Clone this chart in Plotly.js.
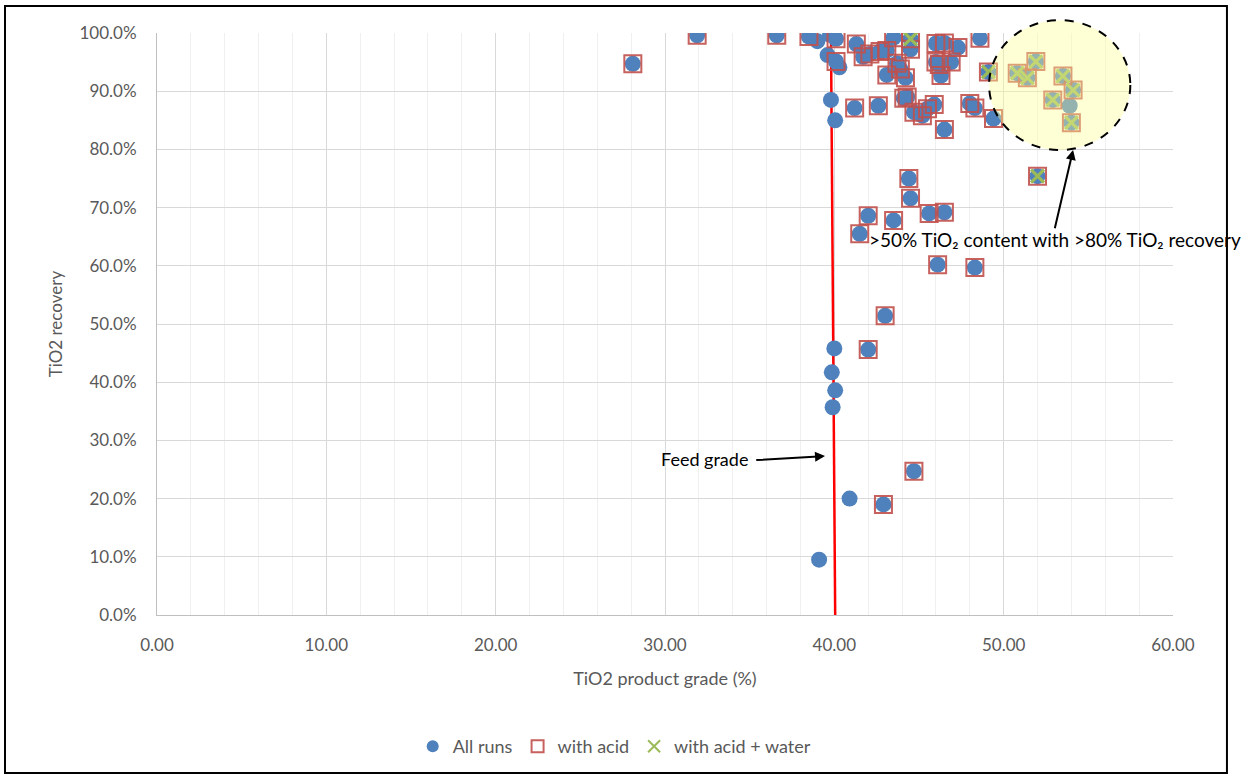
<!DOCTYPE html>
<html>
<head>
<meta charset="utf-8">
<script src="https://cdn.plot.ly/plotly-3.0.1.min.js"></script>
<style>
  html, body { margin: 0; padding: 0; background: #ffffff; }
  #chart { width: 1254px; height: 778px; }
</style>
</head>
<body>
<div id="chart"></div>
<script>
// Runs without acid (TiO2 product grade %, TiO2 recovery fraction)
const plainGrade = [39.1, 40.9, 39.9, 40.05, 39.85, 40.0, 39.8, 40.05, 39.6, 40.3, 39.0, 39.75, 53.9];
const plainRecovery = [0.095, 0.200, 0.357, 0.386, 0.417, 0.458, 0.885, 0.850, 0.962, 0.941, 0.986, 0.997, 0.875];

// Runs with acid (no water)
const acidGrade = [28.1, 31.9, 36.6, 38.5, 40.1, 40.1, 41.3, 41.7, 42.1, 42.7, 43.1, 43.5, 44.5,
  43.7, 43.9, 43.1, 44.2, 41.2, 42.6, 44.1, 44.3, 44.7, 45.2, 45.5, 45.9, 46.5, 46.0, 46.5,
  47.3, 46.0, 46.2, 46.9, 46.3, 48.0, 48.3, 49.4, 48.6, 44.4, 44.5, 42.0, 43.5, 45.6, 46.5,
  41.5, 46.1, 48.3, 43.0, 42.0, 44.7, 42.9];
const acidRecovery = [0.947, 0.996, 0.996, 0.994, 0.990, 0.951, 0.981, 0.959, 0.964, 0.968, 0.970, 0.992, 0.972,
  0.948, 0.938, 0.928, 0.923, 0.871, 0.875, 0.888, 0.890, 0.864, 0.858, 0.870, 0.877, 0.834, 0.982, 0.983,
  0.975, 0.950, 0.946, 0.950, 0.927, 0.879, 0.871, 0.853, 0.991, 0.750, 0.716, 0.686, 0.678, 0.690, 0.692,
  0.655, 0.602, 0.597, 0.514, 0.456, 0.247, 0.190];

// Runs with acid + water
const waterGrade = [44.5, 49.1, 50.8, 51.4, 51.9, 53.5, 54.1, 52.9, 54.0, 52.0];
const waterRecovery = [0.990, 0.933, 0.931, 0.923, 0.951, 0.926, 0.902, 0.885, 0.846, 0.754];

// Feed grade reference line
const feedGrade = [39.8, 40.05];
const feedRecovery = [1.0, 0.0];

const xTickVals = [0, 10, 20, 30, 40, 50, 60];
const yTickVals = [0, 0.1, 0.2, 0.3, 0.4, 0.5, 0.6, 0.7, 0.8, 0.9, 1.0];

const seriesNames = ['All runs', 'with acid', 'with acid + water'];

const allGrade = plainGrade.concat(acidGrade, waterGrade);
const allRecovery = plainRecovery.concat(acidRecovery, waterRecovery);
const acidAllGrade = acidGrade.concat(waterGrade);
const acidAllRecovery = acidRecovery.concat(waterRecovery);

const FONT = 'Lato, "Open Sans", sans-serif';

const traces = [
  {
    x: feedGrade, y: feedRecovery, type: 'scatter', mode: 'lines',
    line: { color: '#FF0000', width: 2.5 }, showlegend: false, hoverinfo: 'skip'
  },
  {
    x: allGrade, y: allRecovery, type: 'scatter', mode: 'markers', name: seriesNames[0],
    marker: { symbol: 'circle', size: 16, color: '#4F81BD' }
  },
  {
    x: acidAllGrade, y: acidAllRecovery, type: 'scatter', mode: 'markers', name: seriesNames[1],
    marker: { symbol: 'square-open', size: 17, color: 'rgba(192,80,77,0.9)', line: { width: 2, color: 'rgba(192,80,77,0.9)' } }
  },
  {
    x: waterGrade, y: waterRecovery, type: 'scatter', mode: 'markers', name: seriesNames[2],
    marker: { symbol: 'x-thin', size: 13, color: '#9BBB59', line: { width: 3.2, color: '#9BBB59' } }
  }
];

const layout = {
  width: 1254, height: 778,
  margin: { l: 157, r: 81, t: 33, b: 163 },
  paper_bgcolor: '#ffffff', plot_bgcolor: '#ffffff',
  font: { family: FONT, size: 17, color: '#595959' },
  showlegend: true,
  legend: {
    orientation: 'h', x: 0.45, xanchor: 'center', y: -0.226, yanchor: 'middle',
    font: { family: FONT, size: 18, color: '#595959' }, itemsizing: 'constant', traceorder: 'normal'
  },
  xaxis: {
    range: [0, 60], tickvals: xTickVals, tickformat: '.2f',
    showgrid: true, gridcolor: '#D9D9D9', gridwidth: 1,
    minor: { dtick: 2, showgrid: true, gridcolor: '#F0F0F0', gridwidth: 1 },
    showline: true, linecolor: '#BFBFBF', linewidth: 1, zeroline: false,
    ticks: '', ticklabelstandoff: 15,
    tickfont: { family: FONT, size: 17, color: '#595959' },
    title: { text: 'TiO2 product grade (%)', standoff: 17, font: { family: FONT, size: 18, color: '#595959' } }
  },
  yaxis: {
    range: [0, 1.0], tickvals: yTickVals, tickformat: '.1%',
    showgrid: true, gridcolor: '#D9D9D9', gridwidth: 1,
    showline: true, linecolor: '#BFBFBF', linewidth: 1, zeroline: false,
    ticks: '', ticklabelstandoff: 16,
    tickfont: { family: FONT, size: 17, color: '#595959' },
    title: { text: 'TiO2 recovery', standoff: 12, font: { family: FONT, size: 17, color: '#595959' } }
  },
  shapes: [
    {
      type: 'circle', xref: 'paper', yref: 'paper', layer: 'above',
      x0: 0.819, x1: 0.958, y0: 0.799, y1: 1.022,
      fillcolor: 'rgba(255,255,153,0.4)',
      line: { color: '#000000', width: 2, dash: 'dash' }
    },
    {
      type: 'rect', xref: 'paper', yref: 'paper', layer: 'below',
      x0: -0.1496, x1: 1.0531, y0: -0.2715, y1: 1.0464,
      line: { color: '#000000', width: 2 }, fillcolor: 'rgba(0,0,0,0)'
    }
  ],
  annotations: [
    {
      text: '<b>Figure 4: By-product grade (TiO2 content) versus TiO2 recovery (weight percent)</b>',
      xref: 'paper', yref: 'paper', x: -0.155, y: 1.066, xanchor: 'left', yanchor: 'bottom',
      showarrow: false, font: { family: '"Liberation Serif", serif', size: 19, color: '#000000' }
    },
    {
      text: 'Feed grade', xref: 'x', yref: 'y', x: 35.0, y: 0.268, xanchor: 'right', yanchor: 'middle',
      showarrow: false, font: { family: FONT, size: 18, color: '#000000' }
    },
    {
      text: '', xref: 'x', yref: 'y', x: 39.45, y: 0.273, axref: 'x', ayref: 'y', ax: 35.3, ay: 0.266,
      showarrow: true, arrowhead: 2, arrowsize: 1, arrowwidth: 2, arrowcolor: '#000000'
    },
    {
      text: '>50% TiO₂ content with >80% TiO₂ recovery', xref: 'x', yref: 'y', x: 41.9, y: 0.646,
      xanchor: 'left', yanchor: 'middle', showarrow: false, font: { family: FONT, size: 19, color: '#000000' }
    },
    {
      text: '', xref: 'x', yref: 'y', x: 54.1, y: 0.799, axref: 'x', ayref: 'y', ax: 53.0, ay: 0.662,
      showarrow: true, arrowhead: 2, arrowsize: 1, arrowwidth: 2, arrowcolor: '#000000'
    }
  ]
};

Plotly.newPlot('chart', traces, layout, { displayModeBar: false, staticPlot: true });
</script>
</body>
</html>
